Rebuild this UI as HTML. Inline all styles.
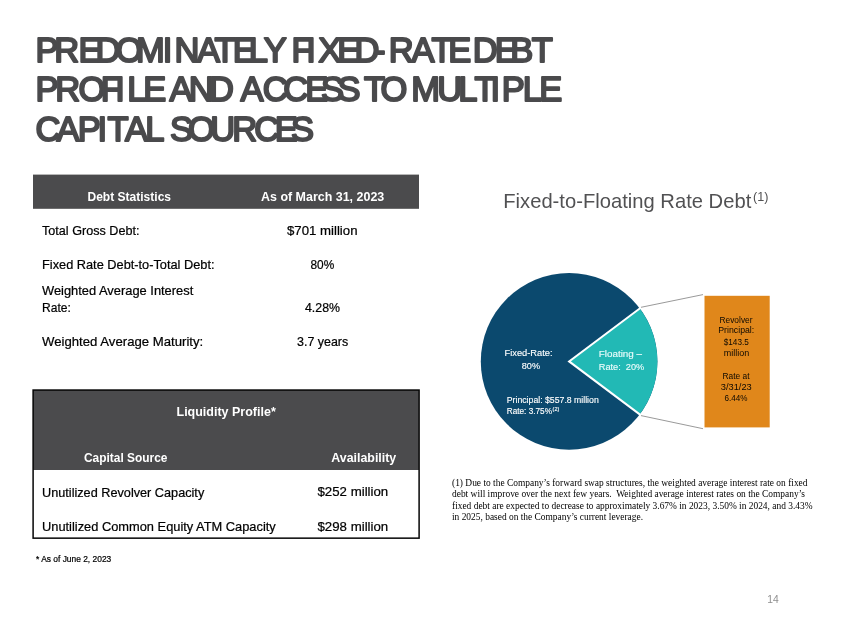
<!DOCTYPE html>
<html lang="en">
<head>
<meta charset="utf-8">
<title>Predominately Fixed-Rate Debt Profile and Access to Multiple Capital Sources</title>
<style>
html,body{margin:0;padding:0;background:#fff;}
body{width:850px;height:636px;position:relative;overflow:hidden;}
svg{position:absolute;left:0;top:0;display:block;will-change:transform;}
text{white-space:pre;}
.s{font-family:"Liberation Sans",sans-serif;}
.r{font-family:"Liberation Serif",serif;}
.b{font-weight:bold;}
</style>
</head>
<body>
<svg width="850" height="636" viewBox="0 0 850 636">

<g class="s" font-size="34.5" fill="#4a4a4c" stroke="#4a4a4c" stroke-width="2.0" stroke-linejoin="round" stroke-linecap="round">
<text y="61.8" x="35.5 54.3 78.4 95.6 115.8 136 162.7 174.5 197 214.4 232.7 248.7 263.7 282.2 291.5 306.3 318.2 337.2 354.4 374 388.7 411.4 431.5 448.2 464.2 472.7 494.7 510.2 531.7">PREDOMINATELY FIXED-RATE DEBT</text>
<text y="101.4" x="35.4 55.2 78.4 100.7 115.3 127.2 143.2 160.2 169.4 188.7 209 230.2 240.6 262.7 283.2 305.2 320.9 337.4 355.2 364 380.6 401.2 411.2 437.3 458.2 474.4 490.5 501.7 522.7 539.2">PROFILE AND ACCESS TO MULTIPLE</text>
<text y="141" x="35.45 56.4 77.7 97.5 107.6 124.9 145.2 161.2 169.9 187.9 210.3 232.2 254.2 274.7 290.9">CAPITAL SOURCES</text>
</g>

<rect x="33" y="174.6" width="386" height="34.2" fill="#4b4b4d"/>
<rect x="33" y="390" width="386" height="80" fill="#4b4b4d"/>
<rect x="33.1" y="390.05" width="386" height="148.1" fill="none" stroke="#050505" stroke-width="1.5"/>

<circle cx="569.1" cy="361.4" r="88.3" fill="#0b496e"/>
<path d="M569.1 361.4 L639.76 308.44 A88.3 88.3 0 0 1 639.76 414.36 Z" fill="#22b9b5"/>
<path d="M640.72 307.72 L569.1 361.4 L640.72 415.08" fill="none" stroke="#fff" stroke-width="2" stroke-linejoin="miter"/>
<line x1="641" y1="307.3" x2="703" y2="294.6" stroke="#7f7f7f" stroke-width="0.8"/>
<line x1="641" y1="415.6" x2="703" y2="428.7" stroke="#7f7f7f" stroke-width="0.8"/>
<rect x="704.5" y="295.8" width="65.2" height="131.6" fill="#e0871b"/>

<text class="s b" x="87.5" y="201.2" font-size="12.9" fill="#fff" textLength="83.5" lengthAdjust="spacingAndGlyphs">Debt Statistics</text>
<text class="s b" x="261" y="201.2" font-size="12.9" fill="#fff" textLength="123.25" lengthAdjust="spacingAndGlyphs">As of March 31, 2023</text>
<text class="s" x="42" y="235.2" font-size="12.9" fill="#000001" stroke="#000001" stroke-width="0.22" textLength="97.5" lengthAdjust="spacingAndGlyphs">Total Gross Debt:</text>
<text class="s" x="287" y="235.2" font-size="12.9" fill="#000001" stroke="#000001" stroke-width="0.22" textLength="70.5" lengthAdjust="spacingAndGlyphs">$701 million</text>
<text class="s" x="42" y="269.4" font-size="12.9" fill="#000001" stroke="#000001" stroke-width="0.22" textLength="172.5" lengthAdjust="spacingAndGlyphs">Fixed Rate Debt-to-Total Debt:</text>
<text class="s" x="310.5" y="269.4" font-size="12.9" fill="#000001" stroke="#000001" stroke-width="0.22" textLength="23.75" lengthAdjust="spacingAndGlyphs">80%</text>
<text class="s" x="42" y="295" font-size="12.9" fill="#000001" stroke="#000001" stroke-width="0.22" textLength="151.25" lengthAdjust="spacingAndGlyphs">Weighted Average Interest</text>
<text class="s" x="42" y="312" font-size="12.9" fill="#000001" stroke="#000001" stroke-width="0.22" textLength="28.75" lengthAdjust="spacingAndGlyphs">Rate:</text>
<text class="s" x="305" y="312" font-size="12.9" fill="#000001" stroke="#000001" stroke-width="0.22" textLength="35" lengthAdjust="spacingAndGlyphs">4.28%</text>
<text class="s" x="42" y="346.4" font-size="12.9" fill="#000001" stroke="#000001" stroke-width="0.22" textLength="161.25" lengthAdjust="spacingAndGlyphs">Weighted Average Maturity:</text>
<text class="s" x="297" y="346.4" font-size="12.9" fill="#000001" stroke="#000001" stroke-width="0.22" textLength="51.25" lengthAdjust="spacingAndGlyphs">3.7 years</text>
<text class="s b" x="176.5" y="416" font-size="12.9" fill="#fff" textLength="99.25" lengthAdjust="spacingAndGlyphs">Liquidity Profile*</text>
<text class="s b" x="84" y="462" font-size="12.9" fill="#fff" textLength="83.5" lengthAdjust="spacingAndGlyphs">Capital Source</text>
<text class="s b" x="331.25" y="462" font-size="12.9" fill="#fff" textLength="65" lengthAdjust="spacingAndGlyphs">Availability</text>
<text class="s" x="42" y="496.6" font-size="12.9" fill="#000001" stroke="#000001" stroke-width="0.22" textLength="162.25" lengthAdjust="spacingAndGlyphs">Unutilized Revolver Capacity</text>
<text class="s" x="317.5" y="496.4" font-size="12.9" fill="#000001" stroke="#000001" stroke-width="0.22" textLength="70.75" lengthAdjust="spacingAndGlyphs">$252 million</text>
<text class="s" x="42" y="530.7" font-size="12.9" fill="#000001" stroke="#000001" stroke-width="0.22" textLength="233.75" lengthAdjust="spacingAndGlyphs">Unutilized Common Equity ATM Capacity</text>
<text class="s" x="317.5" y="530.7" font-size="12.9" fill="#000001" stroke="#000001" stroke-width="0.22" textLength="70.75" lengthAdjust="spacingAndGlyphs">$298 million</text>
<text class="s" x="36" y="562" font-size="8.5" fill="#000001" stroke="#000001" stroke-width="0.22" textLength="75.25" lengthAdjust="spacingAndGlyphs">* As of June 2, 2023</text>
<text class="s" x="503.25" y="207.7" font-size="20.3" fill="#515153" textLength="248" lengthAdjust="spacingAndGlyphs">Fixed-to-Floating Rate Debt</text>
<text class="s" x="753" y="200.6" font-size="13.2" fill="#515153" textLength="15.4" lengthAdjust="spacingAndGlyphs">(1)</text>
<text class="s" x="504.5" y="356.3" font-size="9.9" fill="#fdfefe" stroke="#fdfefe" stroke-width="0.14" textLength="48" lengthAdjust="spacingAndGlyphs">Fixed-Rate:</text>
<text class="s" x="521.75" y="368.8" font-size="9.9" fill="#fdfefe" stroke="#fdfefe" stroke-width="0.14" textLength="18.25" lengthAdjust="spacingAndGlyphs">80%</text>
<text class="s" x="598.75" y="357" font-size="9.9" fill="#eafcfb" stroke="#eafcfb" stroke-width="0.14" textLength="43.25" lengthAdjust="spacingAndGlyphs">Floating –</text>
<text class="s" x="598.75" y="369.5" font-size="9.9" fill="#eafcfb" stroke="#eafcfb" stroke-width="0.14" textLength="45.5" lengthAdjust="spacingAndGlyphs">Rate:  20%</text>
<text class="s" x="506.75" y="403" font-size="8.8" fill="#fdfefe" stroke="#fdfefe" stroke-width="0.14" textLength="92" lengthAdjust="spacingAndGlyphs">Principal: $557.8 million</text>
<text class="s" x="506.75" y="414.2" font-size="8.8" fill="#fdfefe" stroke="#fdfefe" stroke-width="0.14" textLength="45.25" lengthAdjust="spacingAndGlyphs">Rate: 3.75%</text>
<text class="s" x="552.6" y="410.8" font-size="5.4" fill="#fdfefe" stroke="#fdfefe" stroke-width="0.14" textLength="6.65" lengthAdjust="spacingAndGlyphs">(2)</text>
<text class="s" x="719.5" y="322.5" font-size="8.5" fill="#0d0902" textLength="33" lengthAdjust="spacingAndGlyphs">Revolver</text>
<text class="s" x="718.25" y="333.2" font-size="8.5" fill="#0d0902" textLength="36" lengthAdjust="spacingAndGlyphs">Principal:</text>
<text class="s" x="723.75" y="345" font-size="8.5" fill="#0d0902" textLength="25" lengthAdjust="spacingAndGlyphs">$143.5</text>
<text class="s" x="723.75" y="355.8" font-size="8.5" fill="#0d0902" textLength="25.5" lengthAdjust="spacingAndGlyphs">million</text>
<text class="s" x="722.5" y="378.7" font-size="8.5" fill="#0d0902" textLength="27" lengthAdjust="spacingAndGlyphs">Rate at</text>
<text class="s" x="720.75" y="390" font-size="8.5" fill="#0d0902" textLength="31" lengthAdjust="spacingAndGlyphs">3/31/23</text>
<text class="s" x="724.5" y="401.2" font-size="8.5" fill="#0d0902" textLength="23" lengthAdjust="spacingAndGlyphs">6.44%</text>
<text class="r" x="452" y="485.7" font-size="9.6" fill="#000" textLength="355.5" lengthAdjust="spacingAndGlyphs">(1) Due to the Company’s forward swap structures, the weighted average interest rate on fixed</text>
<text class="r" x="452" y="497.3" font-size="9.6" fill="#000" textLength="353" lengthAdjust="spacingAndGlyphs">debt will improve over the next few years.  Weighted average interest rates on the Company’s</text>
<text class="r" x="452" y="508.7" font-size="9.6" fill="#000" textLength="360.5" lengthAdjust="spacingAndGlyphs">fixed debt are expected to decrease to approximately 3.67% in 2023, 3.50% in 2024, and 3.43%</text>
<text class="r" x="452" y="520" font-size="9.6" fill="#000" textLength="191" lengthAdjust="spacingAndGlyphs">in 2025, based on the Company’s current leverage.</text>
<text class="s" x="767.25" y="603.2" font-size="10.5" fill="#8e8e8e" textLength="11.5" lengthAdjust="spacingAndGlyphs">14</text>
</svg>
</body>
</html>
